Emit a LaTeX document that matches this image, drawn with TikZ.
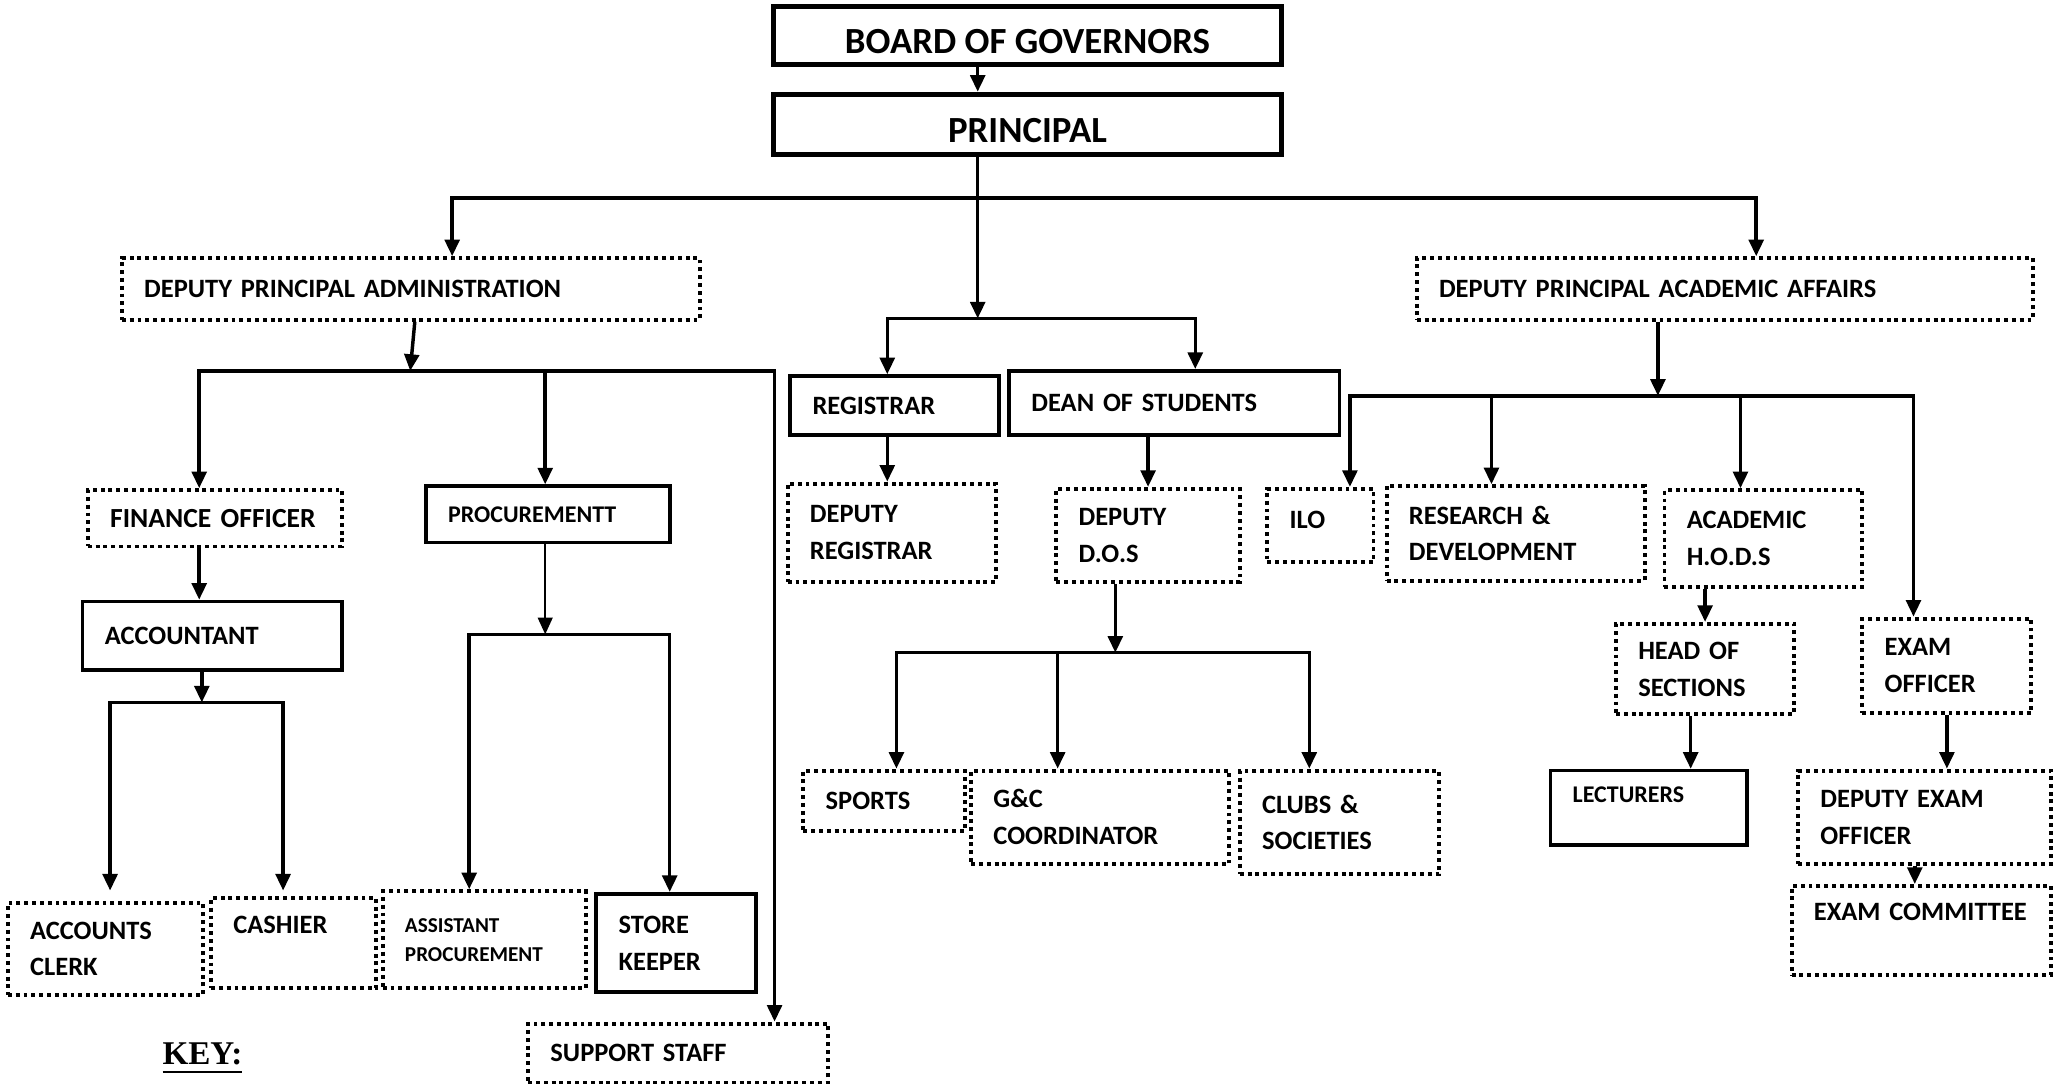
\documentclass[tikz,border=0pt]{standalone}
\usepackage{fontspec}
\setmainfont{Carlito}
\newfontfamily\keyfont{Liberation Serif}
\usetikzlibrary{arrows.meta,positioning}

\begin{document}
\begin{tikzpicture}[every node/.style={align=left, inner xsep=0.17cm, inner ysep=0pt, font=\bfseries\fontsize{5.75}{8}\selectfont},
	head/.style={draw, line width=1.15pt, align=center, minimum width=3.88cm, text height=0.28cm, text depth=0pt, font=\bfseries\fontsize{8}{10}\selectfont},
	sbox/.style={draw, line width=0.8pt},
	dbox/.style={draw, line width=0.85pt, dash pattern=on 0.85pt off 0.85pt},
	arr/.style={line width=0.75pt, -{Triangle[length=3.6pt,width=3.2pt]}},
	tarr/.style={line width=0.35pt, -{Triangle[length=3.6pt,width=3.2pt]}}]
\useasboundingbox (0,0) rectangle (15.68,8.29);
%================================================================
%	Top
\node[head, minimum height=0.44cm] (bog) at (7.84,8.02) {BOARD OF GOVERNORS};
\node[head, minimum height=0.46cm] (prin) at (7.84,7.34) {PRINCIPAL};
%----------------------------------------------------------------
\node[dbox, text width=4.07cm, minimum height=0.47cm] (dpa) at (3.135,6.085) {DEPUTY PRINCIPAL ADMINISTRATION};
\node[dbox, text width=4.36cm, minimum height=0.47cm] (dpaa) at (13.16,6.085) {DEPUTY PRINCIPAL ACADEMIC AFFAIRS};
%================================================================
%	Registrar and dean
\node[sbox, text width=1.25cm, minimum height=0.45cm] (reg) at (6.825,5.195) {REGISTRAR};
\node[sbox, text width=2.18cm, minimum height=0.49cm] (dean) at (8.96,5.215) {DEAN OF STUDENTS};
%----------------------------------------------------------------
\node[dbox, text width=1.25cm, minimum height=0.75cm] (dreg) at (6.805,4.225) {DEPUTY\\REGISTRAR};
\node[dbox, text width=1.06cm, minimum height=0.71cm] (ddos) at (8.76,4.205) {DEPUTY\\D.O.S};
%----------------------------------------------------------------
\node[dbox, text width=0.89cm, minimum height=0.46cm] (sports) at (6.745,2.18) {SPORTS};
\node[dbox, text width=1.63cm, minimum height=0.71cm] (gc) at (8.395,2.055) {G\&C\\COORDINATOR};
\node[dbox, text width=1.18cm, minimum height=0.79cm] (clubs) at (10.22,2.015) {CLUBS \&\\SOCIETIES};
%================================================================
%	Administration
\node[dbox, text width=1.60cm, minimum height=0.43cm, font=\bfseries\fontsize{6}{8}\selectfont] (fo) at (1.64,4.335) {FINANCE OFFICER};
\node[sbox, text width=1.64cm, minimum height=0.52cm] (acct) at (1.62,3.44) {ACCOUNTANT};
\node[dbox, text width=1.15cm, minimum height=0.70cm] (clerk) at (0.805,1.05) {ACCOUNTS\\CLERK};
\node[dbox, text width=0.92cm, minimum height=0.69cm] (cash) at (2.24,1.095) {CASHIER\\~};
%----------------------------------------------------------------
\node[sbox, text width=1.52cm, minimum height=0.43cm, font=\bfseries\fontsize{5.2}{7}\selectfont] (proc) at (4.18,4.365) {PROCUREMENTT};
\node[dbox, text width=1.21cm, minimum height=0.74cm, font=\bfseries\fontsize{4.6}{6.3}\selectfont] (aproc) at (3.695,1.12) {ASSISTANT\\PROCUREMENT};
\node[sbox, text width=0.88cm, minimum height=0.75cm] (store) at (5.16,1.095) {STORE\\KEEPER};
%----------------------------------------------------------------
\node[dbox, text width=1.95cm, minimum height=0.45cm] (support) at (5.175,0.255) {SUPPORT STAFF};
\node[font=\keyfont\bfseries\fontsize{7.2}{9}\selectfont] (key) at (1.545,0.21) {\underline{KEY:}};
%================================================================
%	Academic affairs
\node[dbox, text width=0.47cm, minimum height=0.56cm] (ilo) at (10.075,4.28) {ILO\\[-0.2cm]~};
\node[dbox, text width=1.63cm, minimum height=0.72cm] (rd) at (11.565,4.22) {RESEARCH \&\\DEVELOPMENT};
\node[dbox, text width=1.17cm, minimum height=0.74cm] (hods) at (13.455,4.18) {ACADEMIC\\H.O.D.S};
\node[dbox, text width=1.02cm, minimum height=0.69cm] (hos) at (13.01,3.185) {HEAD OF\\SECTIONS};
\node[sbox, text width=1.16cm, minimum height=0.57cm, font=\bfseries\fontsize{5.2}{6}\selectfont] (lect) at (12.58,2.125) {LECTURERS\\~};
%----------------------------------------------------------------
\node[dbox, text width=0.95cm, minimum height=0.72cm] (eo) at (14.855,3.21) {EXAM\\OFFICER};
\node[dbox, text width=1.59cm, minimum height=0.71cm] (deo) at (14.685,2.055) {DEPUTY EXAM\\OFFICER};
\node[dbox, text width=1.64cm, minimum height=0.68cm] (ecom) at (14.66,1.19) {EXAM COMMITTEE\\~};

%================================================================
%	Junctions
\coordinate (t0) at (7.46,6.78);
\coordinate (t1) at (3.45,6.78);
\coordinate (t2) at (13.40,6.78);
\coordinate (m0) at (7.46,5.86);
\coordinate (m1) at (6.77,5.86);
\coordinate (m2) at (9.12,5.86);
%----------------------------------------------------------------
\coordinate (a0) at (3.13,5.46);
\coordinate (a1) at (1.52,5.46);
\coordinate (a2) at (4.16,5.46);
\coordinate (a3) at (5.91,5.46);
\coordinate (b0) at (1.54,2.93);
\coordinate (b1) at (0.84,2.93);
\coordinate (b2) at (2.16,2.93);
\coordinate (p0) at (4.16,3.45);
\coordinate (p1) at (3.58,3.45);
\coordinate (p2) at (5.11,3.45);
%----------------------------------------------------------------
\coordinate (s0) at (8.51,3.31);
\coordinate (s1) at (6.84,3.31);
\coordinate (s2) at (8.07,3.31);
\coordinate (s3) at (9.99,3.31);
%----------------------------------------------------------------
\coordinate (c0) at (12.65,5.27);
\coordinate (c1) at (10.30,5.27);
\coordinate (c2) at (11.38,5.27);
\coordinate (c3) at (13.28,5.27);
\coordinate (c4) at (14.60,5.27);

%================================================================
%	Lines
\draw[arr] (bog.south -| t0) -- (prin.north -| t0);
\draw[arr] (prin.south -| t0) -- (m0);
\draw[arr] (t0) -| (dpa.north -| t1);
\draw[arr] (t0) -| (dpaa.north -| t2);
%----------------------------------------------------------------
\draw[arr] (m0) -| (reg.north -| m1);
\draw[arr] (m0) -| (dean.north -| m2);
\draw[arr] (reg.south -| m1) -- (dreg.north -| m1);
\draw[arr] (dean.south -| ddos.north) -- (ddos.north);
\draw[arr] (ddos.south -| s0) -- (s0);
\draw[arr] (s0) -| (sports.north -| s1);
\draw[arr] (s0) -| (clubs.north -| s3);
\draw[arr] (s2) -- (gc.north -| s2);
%----------------------------------------------------------------
\draw[arr] ([xshift=0.03cm]dpa.south) -- (a0);
\draw[arr] (a0) -| (fo.north -| a1);
\draw[arr] (a0) -| (support.north -| a3);
\draw[arr] (a2) -- (proc.north -| a2);
\draw[arr] (fo.south -| a1) -- (acct.north -| a1);
\draw[arr] (acct.south -| b0) -- (b0);
\draw[arr, shorten >=0.08cm] (b0) -| (clerk.north -| b1);
\draw[arr, shorten >=0.04cm] (b0) -| (cash.north -| b2);
\draw[tarr] (proc.south -| p0) -- (p0);
\draw[arr] (p0) -| (aproc.north -| p1);
\draw[arr] (p0) -| (store.north -| p2);
%----------------------------------------------------------------
\draw[arr] (dpaa.south -| c0) -- (c0);
\draw[arr] (c0) -| (ilo.north -| c1);
\draw[arr] (c0) -| (eo.north -| c4);
\draw[arr] (c2) -- (rd.north -| c2);
\draw[arr] (c3) -- (hods.north -| c3);
\draw[arr] (hods.south -| hos.north) -- (hos.north);
\draw[arr] ([xshift=-0.11cm]hos.south) -- ([xshift=-0.11cm]hos.south |- lect.north);
\draw[arr] (eo.south) -- (eo.south |- deo.north);
\draw[arr] ([xshift=-0.075cm]deo.south) -- ([xshift=-0.075cm]deo.south |- ecom.north);
%================================================================
\end{tikzpicture}
\end{document}
